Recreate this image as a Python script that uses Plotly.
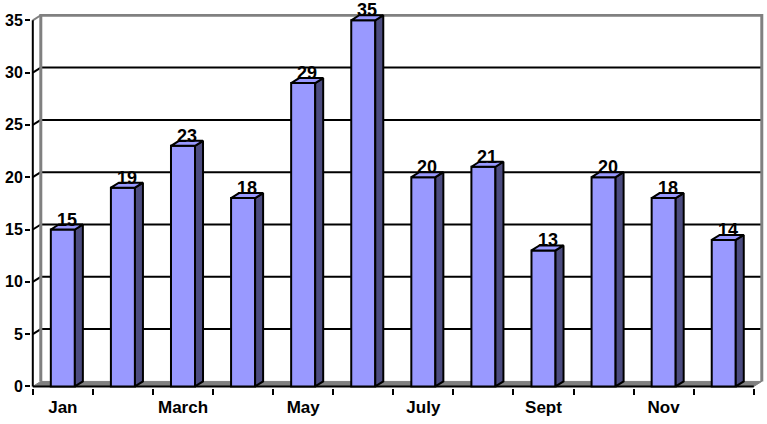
import plotly.graph_objects as go

# ---- data ----
months = ["Jan", "Feb", "March", "April", "May", "June",
          "July", "Aug", "Sept", "Oct", "Nov", "Dec"]
values = [15, 19, 23, 18, 29, 35, 20, 21, 13, 20, 18, 14]
shown_labels = ["Jan", "", "March", "", "May", "", "July", "", "Sept", "", "Nov", ""]
y_ticks = [0, 5, 10, 15, 20, 25, 30, 35]

# ---- geometry / style ----
W, H = 767, 424
PX_X = 60.08          # pixels per category
PX_Y = 10.457         # pixels per value unit
DX = 8 / PX_X         # 3D depth offset (data units)
DY = 5 / PX_Y
BAR_W = 0.4
X0_PX, Y0_PX = 33, 386   # pixel position of data origin
xr = [-0.03, 12.17]
yr = [-0.15, 35.6]
pl = X0_PX + xr[0] * PX_X
pw = (xr[1] - xr[0]) * PX_X
pb = Y0_PX - yr[0] * PX_Y
ph = (yr[1] - yr[0]) * PX_Y
m_l, m_r = pl, W - pl - pw
m_b, m_t = H - pb, pb - ph

FRONT = "#9999FF"
SIDE = "#4C4C80"
TOP = "#9999FF"
GRAY = "#808080"
FONT = "Liberation Sans, Arial, sans-serif"

n = len(months)
centers = [i + 0.5 for i in range(n)]
ymax = y_ticks[-1]

shapes = []
# floor
shapes.append(dict(type="path", xref="x", yref="y", layer="below",
                   path=f"M 0,0 L {n},0 L {n+DX},{DY} L {DX},{DY} Z",
                   fillcolor=GRAY, line=dict(color=GRAY, width=1)))
# back-wall gridlines and diagonal connectors
for v in y_ticks[1:]:
    col = GRAY if v == ymax else "black"
    if v != ymax:
        shapes.append(dict(type="line", xref="x", yref="y", layer="below",
                           x0=DX, x1=n + DX, y0=v + DY, y1=v + DY,
                           line=dict(color="black", width=2)))
    shapes.append(dict(type="line", xref="x", yref="y", layer="below",
                       x0=0, x1=DX, y0=v, y1=v + DY,
                       line=dict(color=col, width=2)))
# wall edges
shapes.append(dict(type="path", xref="x", yref="y", layer="below",
                   path=f"M {DX},{DY} L {DX},{ymax+DY} L {n+DX},{ymax+DY} L {n+DX},{DY}",
                   line=dict(color=GRAY, width=3)))
# axis lines
shapes.append(dict(type="line", xref="x", yref="y", layer="below",
                   x0=0, x1=0, y0=0, y1=ymax, line=dict(color="black", width=2)))
shapes.append(dict(type="line", xref="x", yref="y", layer="below",
                   x0=0, x1=n, y0=0, y1=0, line=dict(color="black", width=2)))

fig = go.Figure()
# front faces
fig.add_trace(go.Bar(x=centers, y=values, width=BAR_W,
                     marker=dict(color=FRONT, line=dict(color="black", width=2)),
                     hoverinfo="skip", showlegend=False))

# side faces and top faces
sx, sy, tx, ty = [], [], [], []
for c, v in zip(centers, values):
    x0, x1 = c - BAR_W / 2, c + BAR_W / 2
    sx += [x1, x1 + DX, x1 + DX, x1, x1, None]
    sy += [0, DY, v + DY, v, 0, None]
    tx += [x0, x1, x1 + DX, x0 + DX, x0, None]
    ty += [v, v, v + DY, v + DY, v, None]
fig.add_trace(go.Scatter(x=sx, y=sy, mode="lines", fill="toself", fillcolor=SIDE,
                         line=dict(color="black", width=2), hoverinfo="skip",
                         showlegend=False, cliponaxis=False))
fig.add_trace(go.Scatter(x=tx, y=ty, mode="lines", fill="toself", fillcolor=TOP,
                         line=dict(color="black", width=2), hoverinfo="skip",
                         showlegend=False, cliponaxis=False))

annotations = []
for c, v in zip(centers, values):
    annotations.append(dict(x=c + DX / 2, y=v + DY, xref="x", yref="y",
                            text=str(v), showarrow=False, yanchor="bottom",
                            yshift=-7, font=dict(family=FONT, size=18, color="black",
                                                  weight="bold")))

fig.update_layout(
    width=W, height=H,
    margin=dict(l=m_l, r=m_r, t=m_t, b=m_b, pad=0),
    paper_bgcolor="white", plot_bgcolor="white",
    shapes=shapes, annotations=annotations,
    showlegend=False,
    xaxis=dict(range=xr, showgrid=False, zeroline=False, showline=False,
               tickmode="array", tickvals=centers, ticktext=shown_labels,
               ticks="", ticklabelstandoff=7,
               tickfont=dict(family=FONT, size=17, color="black", weight="bold"),
               minor=dict(tickmode="array", tickvals=list(range(n + 1)), ticks="outside",
                          ticklen=6, tickwidth=2, tickcolor="black", showgrid=False)),
    yaxis=dict(range=yr, showgrid=False, zeroline=False, showline=False,
               tickmode="array", tickvals=y_ticks, ticks="outside", ticklen=5,
               tickwidth=2, tickcolor="black", ticklabelstandoff=-1,
               tickfont=dict(family=FONT, size=16, color="black", weight="bold")),
)

fig.write_html("out.html")
